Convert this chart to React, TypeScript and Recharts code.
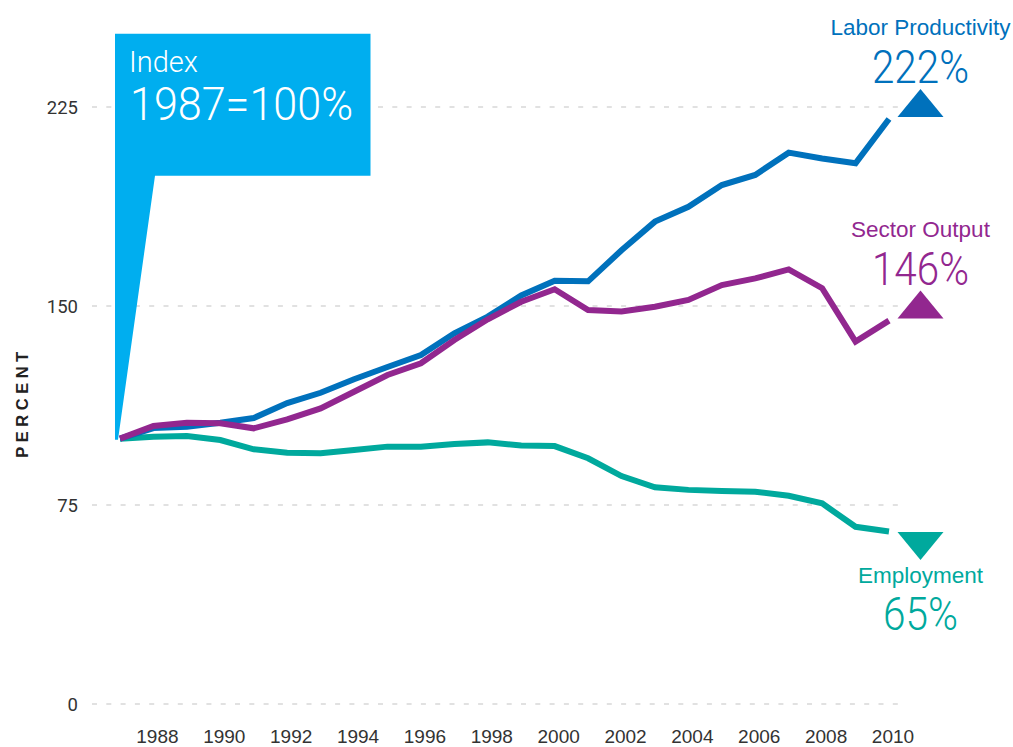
import React from 'react';
import { LineChart, Line, XAxis, YAxis, CartesianGrid, ReferenceDot } from 'recharts';

const years = [1987,1988,1989,1990,1991,1992,1993,1994,1995,1996,1997,1998,1999,2000,2001,2002,2003,2004,2005,2006,2007,2008,2009,2010];
const laborProductivity = [100,104,104.5,106,107.8,113.4,117.3,122.4,127,131.5,139.7,146,154,159.5,159.3,171,181.8,187.4,195.6,199.4,207.8,205.6,203.8,220.5];
const sectorOutput = [100,104.8,106,105.8,103.9,107.3,111.4,117.7,124,128.4,137.2,145,151.6,156.3,148.5,147.9,149.7,152.3,157.9,160.4,163.8,156.7,136.6,144.5];
const employment = [100,100.7,101,99.5,96,94.7,94.5,95.7,97,97,98,98.6,97.4,97.2,92.6,85.9,81.7,80.7,80.3,80,78.5,75.6,66.8,65];

const xTicks = [1988,1990,1992,1994,1996,1998,2000,2002,2004,2006,2008,2010];
const yTicks = [0,75,150,225];

const seriesNames = ['Labor Productivity','Sector Output','Employment'];
const seriesColors = ['#0071BC','#92278F','#00A99D'];
const finalLabels = ['222%','146%','65%'];
const finalDirection = ['up','up','down'];
const finalWidths = [97,97,75];

const data = years.map((year, i) => ({
  year,
  labor: laborProductivity[i],
  sector: sectorOutput[i],
  employment: employment[i],
}));

const lastIdx = years.length - 1;
const lastValues = [laborProductivity[lastIdx], sectorOutput[lastIdx], employment[lastIdx]];

const XTick = (props: any) => {
  const { x, y, payload } = props;
  return (
    <text x={x + 4} y={y} dy="0.71em" textAnchor="middle" fill="#333" fontSize={19}
      fontFamily="'Liberation Sans', Arial, sans-serif">{payload.value}</text>
  );
};

const YTick = (props: any) => {
  const { x, y, payload } = props;
  return (
    <text x={x} y={y} dy="0.355em" textAnchor="end" fill="#333" fontSize={18.5}
      fontFamily="Roboto, sans-serif">{payload.value}</text>
  );
};

const Callout = (props: any) => {
  const { cx, cy } = props;
  const d = `M${cx - 5},${cy - 405} H${cx + 250.5} V${cy - 263} H${cx + 35} L${cx - 2},${cy + 1} L${cx - 5},${cy + 1} Z`;
  return (
    <g>
      <path d={d} fill="#00AEEF" />
      <text x={cx + 9} y={cy - 367} fill="#fff" fontSize={29} fontWeight={300} fontFamily="Roboto, sans-serif">Index</text>
      <text x={cx + 10} y={cy - 318.7} fill="#fff" fontSize={47} fontWeight={300} fontFamily="Roboto, sans-serif"
        textLength={223} lengthAdjust="spacingAndGlyphs">1987=100%</text>
    </g>
  );
};

const makeEndMarker = (i: number) => (props: any) => {
  const { cx, cy } = props;
  const color = seriesColors[i];
  const tx = cx + 31.5;
  if (finalDirection[i] === 'up') {
    const base = cy - 2;
    return (
      <g>
        <path d={`M${tx - 23},${base} L${tx + 23},${base} L${tx},${base - 28} Z`} fill={color} />
        <text x={tx} y={base - 34} textAnchor="middle" fill={color} fontSize={46} fontWeight={300}
          fontFamily="Roboto, sans-serif" textLength={finalWidths[i]} lengthAdjust="spacingAndGlyphs">{finalLabels[i]}</text>
        <text x={tx} y={base - 81.5} textAnchor="middle" fill={color} fontSize={22.5}
          fontFamily="'Liberation Sans', Arial, sans-serif">{seriesNames[i]}</text>
      </g>
    );
  }
  const top = cy + 0.5;
  return (
    <g>
      <path d={`M${tx - 23},${top} L${tx + 23},${top} L${tx},${top + 28} Z`} fill={color} />
      <text x={tx} y={top + 51} textAnchor="middle" fill={color} fontSize={22.5}
        fontFamily="'Liberation Sans', Arial, sans-serif">{seriesNames[i]}</text>
      <text x={tx} y={top + 98} textAnchor="middle" fill={color} fontSize={46} fontWeight={300}
        fontFamily="Roboto, sans-serif" textLength={finalWidths[i]} lengthAdjust="spacingAndGlyphs">{finalLabels[i]}</text>
    </g>
  );
};

const PercentLabel = (props: any) => {
  const { viewBox } = props;
  const x = viewBox.x + 22;
  const y = viewBox.y + viewBox.height / 2 - 3;
  return (
    <text x={x} y={y} transform={`rotate(-90, ${x}, ${y})`} textAnchor="middle" dominantBaseline="central"
      fill="#222" fontSize={16.5} fontWeight={700} letterSpacing={4.5}
      fontFamily="'Liberation Sans', Arial, sans-serif">PERCENT</text>
  );
};

export default function App() {
  return (
    <div style={{ width: 1013, height: 747, overflow: 'hidden' }}>
      <style>{'body { margin: 0; } .recharts-wrapper svg, .recharts-surface { overflow: visible; }'}</style>
      <LineChart width={1013} height={747} data={data} margin={{ top: 107, right: 110, bottom: 3, left: 0 }}>
        <CartesianGrid vertical={false} stroke="#c4c4c4" strokeDasharray="5 9.3" strokeWidth={1.2} />
        <XAxis dataKey="year" type="number" domain={[1986.1624, 2010.419]} ticks={xTicks}
          axisLine={false} tickLine={false} tickSize={6} tickMargin={20} height={40}
          tick={<XTick />} interval={0} allowDataOverflow />
        <YAxis type="number" domain={[0, 225]} ticks={yTicks} axisLine={false} tickLine={false}
          tickSize={6} tickMargin={8} width={92} tick={<YTick />} interval={0}
          label={<PercentLabel />} />
        <ReferenceDot x={years[0]} y={laborProductivity[0]} shape={<Callout />} ifOverflow="visible" />
        <Line type="linear" dataKey="employment" stroke={seriesColors[2]} strokeWidth={6} dot={false}
          isAnimationActive={false} strokeLinejoin="miter" />
        <Line type="linear" dataKey="labor" stroke={seriesColors[0]} strokeWidth={6} dot={false}
          isAnimationActive={false} strokeLinejoin="miter" />
        <Line type="linear" dataKey="sector" stroke={seriesColors[1]} strokeWidth={6} dot={false}
          isAnimationActive={false} strokeLinejoin="miter" />
        {lastValues.map((v, i) => (
          <ReferenceDot key={i} x={years[lastIdx]} y={v} shape={makeEndMarker(i)} ifOverflow="visible" />
        ))}
      </LineChart>
    </div>
  );
}
